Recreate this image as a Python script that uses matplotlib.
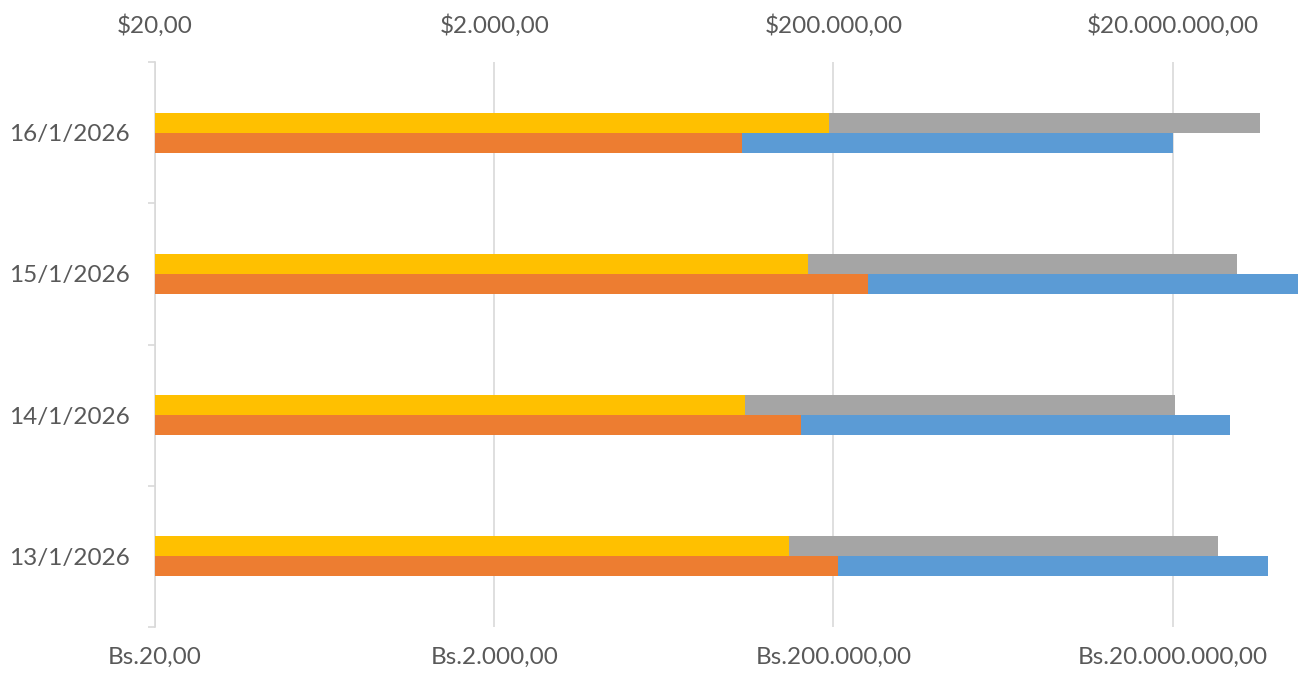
import numpy as np
import matplotlib
matplotlib.use("Agg")
import matplotlib.pyplot as plt
from matplotlib.ticker import FixedLocator, FuncFormatter, NullLocator

# Datos (de abajo hacia arriba)
fechas = ["13/1/2026", "14/1/2026", "15/1/2026", "16/1/2026"]
usd_a = [110000, 60400, 141000, 188800]          # amarillo (eje $)
usd_b = [37000000, 20600000, 48200000, 65900000]  # gris (eje $)
bs_a = [214000, 129000, 319000, 57700]            # naranja (eje Bs.)
bs_b = [73500000, 43500000, 109600000, 20100000]  # azul (eje Bs.)
ticks = [20, 2000, 200000, 20000000]

X_MIN = 20
X_MAX = 20 * 10 ** (1145 / 169.6)
BAR_H = 0.1416

plt.rcParams["font.family"] = ["Lato", "DejaVu Sans"]
TXT = "#595959"
GRID = "#d9d9d9"
FS = 17.5


def fmt(prefix):
    def f(v, pos):
        s = f"{v:,.2f}".replace(",", "X").replace(".", ",").replace("X", ".")
        return prefix + s
    return FuncFormatter(f)


fig = plt.figure(figsize=(13.02, 6.75), dpi=100)
ax = fig.add_axes([155 / 1302, 48 / 675, 1145 / 1302, 565 / 675])
y = np.arange(len(fechas))

# Serie en Bs. (eje inferior)
ax.barh(y - BAR_H / 2, np.array(bs_b) - X_MIN, left=X_MIN, height=BAR_H,
        color="#5B9BD5", zorder=2)
ax.barh(y - BAR_H / 2, np.array(bs_a) - X_MIN, left=X_MIN, height=BAR_H,
        color="#ED7D31", zorder=3)
ax.set_xscale("log")
ax.set_xlim(X_MIN, X_MAX)
ax.set_ylim(-0.5, len(fechas) - 0.5)

ax.xaxis.set_major_locator(FixedLocator(ticks))
ax.xaxis.set_minor_locator(NullLocator())
ax.xaxis.set_major_formatter(fmt("Bs."))
ax.grid(axis="x", color=GRID, linewidth=1.2, zorder=0)
ax.set_axisbelow(True)
ax.tick_params(axis="x", length=0, pad=14, labelsize=FS, labelcolor=TXT)

ax.set_yticks(y)
ax.set_yticklabels(fechas)
ax.set_yticks(np.arange(-0.5, len(fechas)), minor=True)
ax.tick_params(axis="y", which="major", length=0, pad=18, labelsize=FS,
               labelcolor=TXT)
ax.tick_params(axis="y", which="minor", length=5, color=GRID, width=1.2)

for s in ["top", "right", "bottom"]:
    ax.spines[s].set_visible(False)
ax.spines["left"].set_color(GRID)
ax.spines["left"].set_linewidth(1.2)

# Serie en $ (eje superior)
ax2 = ax.twiny()
ax2.barh(y + BAR_H / 2, np.array(usd_b) - X_MIN, left=X_MIN, height=BAR_H,
         color="#A5A5A5", zorder=2)
ax2.barh(y + BAR_H / 2, np.array(usd_a) - X_MIN, left=X_MIN, height=BAR_H,
         color="#FFC000", zorder=3)
ax2.set_xscale("log")
ax2.set_xlim(X_MIN, X_MAX)
ax2.xaxis.set_major_locator(FixedLocator(ticks))
ax2.xaxis.set_minor_locator(NullLocator())
ax2.xaxis.set_major_formatter(fmt("$"))
ax2.tick_params(axis="x", length=0, pad=18, labelsize=FS, labelcolor=TXT)
for s in ax2.spines.values():
    s.set_visible(False)

fig.savefig("out.png", dpi=100, facecolor="white")
